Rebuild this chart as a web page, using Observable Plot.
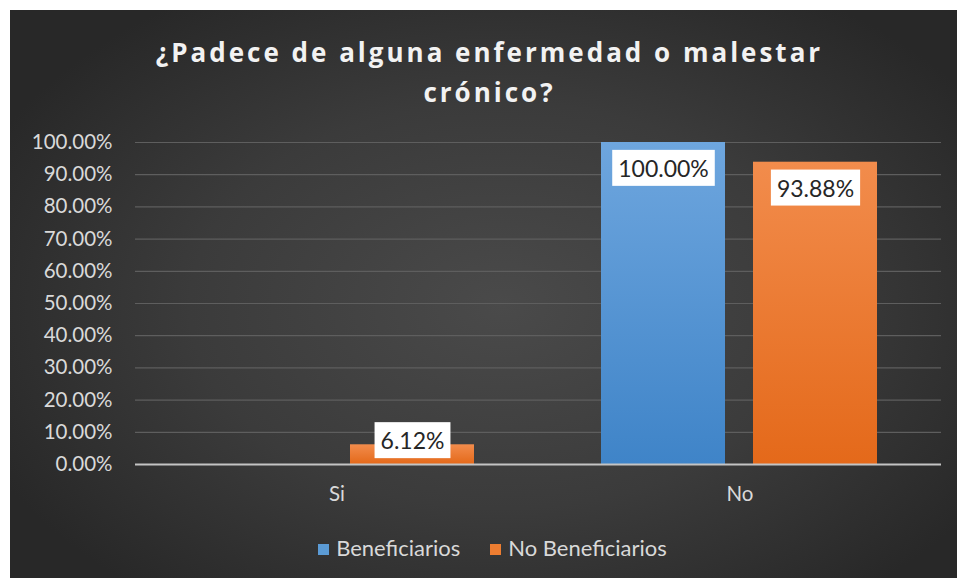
<!DOCTYPE html>
<html>
<head>
<meta charset="utf-8">
<script src="https://cdn.jsdelivr.net/npm/d3@7"></script>
<script src="https://cdn.jsdelivr.net/npm/@observablehq/plot@0.6"></script>
<style>
  html, body { margin: 0; padding: 0; background: #ffffff; }
  #wrap {
    position: absolute; left: 10px; top: 10px; width: 947px; height: 568px;
    background: radial-gradient(ellipse 60% 65% at 52% 52%, #4a4a4a 0%, #3b3b3b 55%, #282828 100%);
    overflow: hidden; font-family: Lato, "Open Sans", sans-serif;
  }
  #title {
    position: absolute; top: 22px; left: 6px; width: 947px; text-align: center;
    color: #f2f2f2; font-family: "Open Sans", sans-serif; font-weight: 700;
    font-size: 26px; line-height: 40px; letter-spacing: 3px;
  }
  #chart { position: absolute; top: 110px; left: 0; }
  #legend {
    position: absolute; top: 526px; left: 0; width: 947px; text-align: center;
    color: #d9d9d9; font-size: 22px; line-height: 24px; padding-left: 18px; box-sizing: border-box;
  }
  #legend span.item { display: inline-block; margin: 0 15px; }
  #legend span.sw { display: inline-block; width: 11px; height: 11px; margin-right: 7px; vertical-align: 1px; }
</style>
</head>
<body>
<div id="wrap">
  <div id="title">¿Padece de alguna enfermedad o malestar<br>crónico?</div>
  <div id="chart"></div>
  <div id="legend"></div>
</div>
<script>
const categories = ["Si", "No"];
const series = ["Beneficiarios", "No Beneficiarios"];
const beneficiarios = [0, 1.0];
const noBeneficiarios = [0.0612, 0.9388];
const yTicks = [0, 0.1, 0.2, 0.3, 0.4, 0.5, 0.6, 0.7, 0.8, 0.9, 1.0];
const seriesColors = ["#5b9bd5", "#ed7d31"];
const gradIds = ["url(#gBlue)", "url(#gOrange)"];

const data = [];
categories.forEach((c, i) => {
  data.push({cat: c, series: series[0], value: beneficiarios[i]});
  data.push({cat: c, series: series[1], value: noBeneficiarios[i]});
});
const labeled = data.filter(d => d.value > 0);
const fmt = d3.format(".2%");

const plot = Plot.plot({
  width: 947, height: 400,
  marginLeft: 124, marginRight: 16, marginTop: 22, marginBottom: 56,
  style: {background: "transparent", color: "#d9d9d9", fontSize: "20px", fontFamily: "Lato, 'Open Sans', sans-serif"},
  fx: {domain: categories, padding: 0, label: null},
  x: {domain: series, paddingInner: 0.183, paddingOuter: 0.41, axis: null},
  y: {domain: [0, 1], label: null},
  marks: [
    Plot.gridY(yTicks, {stroke: "#5e5e5e", strokeOpacity: 1, strokeWidth: 1.2}),
    Plot.axisY(yTicks, {tickSize: 0, tickPadding: 23, tickFormat: fmt, label: null, fill: "#d9d9d9", fontSize: 20.5}),
    Plot.axisFx({anchor: "bottom", tickSize: 0, tickPadding: 22, label: null, fill: "#d9d9d9", fontSize: 20.5}),
    Plot.barY(data.filter(d => d.series === series[0]), {fx: "cat", x: "series", y: "value", fill: gradIds[0]}),
    Plot.barY(data.filter(d => d.series === series[1]), {fx: "cat", x: "series", y: "value", fill: gradIds[1]}),
    Plot.ruleY([0], {stroke: "#c4c4c4", strokeWidth: 2}),
    Plot.text(labeled.filter(d => d.value > 0.2), {fx: "cat", x: "series", y: "value", text: d => fmt(d.value), dy: 27, fill: "#262626", fontSize: 23, className: "dlabel"}),
    Plot.text(labeled.filter(d => d.value <= 0.2), {fx: "cat", x: "series", y: "value", text: d => fmt(d.value), dy: -3, fill: "#262626", fontSize: 23, className: "dlabel"})
  ]
});
document.getElementById("chart").appendChild(plot);

// gradients for the bars
const svg = d3.select(plot);
const defs = svg.insert("defs", ":first-child");
function grad(id, top, bottom) {
  const g = defs.append("linearGradient").attr("id", id).attr("x1", 0).attr("y1", 0).attr("x2", 0).attr("y2", 1);
  g.append("stop").attr("offset", "0%").attr("stop-color", top);
  g.append("stop").attr("offset", "100%").attr("stop-color", bottom);
}
grad("gBlue", "#6ea6de", "#3f84c8");
grad("gOrange", "#f28c4c", "#e4691a");

// white boxes behind data labels
svg.selectAll("g.dlabel text").each(function() {
  const b = this.getBBox();
  const padX = 6, padY = 5;
  d3.select(this.parentNode).insert("rect", () => this)
    .attr("x", b.x - padX).attr("y", b.y - padY + 1)
    .attr("width", b.width + 2 * padX).attr("height", b.height + 2 * padY - 2)
    .attr("fill", "#ffffff")
    .attr("transform", this.getAttribute("transform"));
});

// legend
const legend = document.getElementById("legend");
series.forEach((s, i) => {
  const item = document.createElement("span");
  item.className = "item";
  item.innerHTML = `<span class="sw" style="background:${seriesColors[i]}"></span>${s}`;
  legend.appendChild(item);
});
</script>
</body>
</html>
